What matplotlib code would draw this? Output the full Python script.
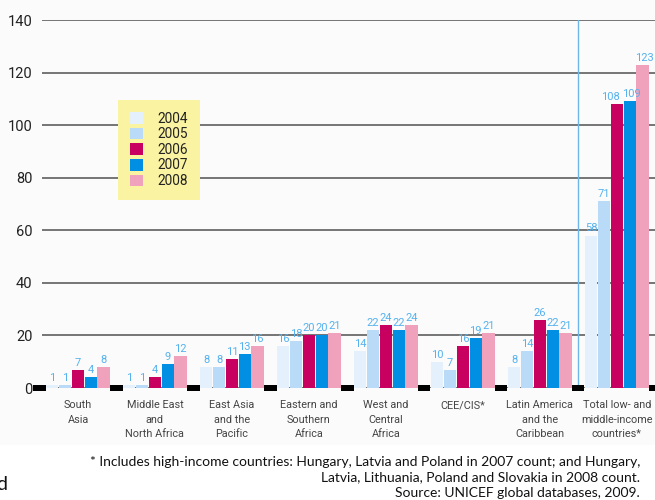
import matplotlib.pyplot as plt
from matplotlib.patches import Patch, Rectangle

regions = ["South\nAsia", "Middle East\nand\nNorth Africa", "East Asia\nand the\nPacific",
           "Eastern and\nSouthern\nAfrica", "West and\nCentral\nAfrica", "CEE/CIS*",
           "Latin America\nand the\nCaribbean", "Total low- and\nmiddle-income\ncountries*"]
years = ["2004", "2005", "2006", "2007", "2008"]
v2004 = [1, 1, 8, 16, 14, 10, 8, 58]
v2005 = [1, 1, 8, 18, 22, 7, 14, 71]
v2006 = [7, 4, 11, 20, 24, 16, 26, 108]
v2007 = [4, 9, 13, 20, 22, 19, 22, 109]
v2008 = [8, 12, 16, 21, 24, 21, 21, 123]
yticks = [0, 20, 40, 60, 80, 100, 120, 140]

series = [v2004, v2005, v2006, v2007, v2008]
colors = ["#E4F0FB", "#B9DBF7", "#C8005F", "#008FE2", "#F0A2BD"]
lblcol = "#55B2EE"
narrow = ["Roboto", "DejaVu Sans"]

fig = plt.figure(figsize=(6.55, 5), dpi=100)
# off-white panel behind the chart image
fig.patches.append(Rectangle((0, 55 / 500), 1, 445 / 500, transform=fig.transFigure,
                             facecolor="#FBFBFB", edgecolor="none", zorder=-5))
ax = fig.add_axes([42 / 655, 112 / 500, 613 / 655, 368 / 500])
ax.set_facecolor("none")

n = len(regions)
for j, (vals, c) in enumerate(zip(series, colors)):
    xs = [6 * g + j for g in range(n)]
    ax.bar(xs, vals, width=0.96, color=c, zorder=3, label=years[j])
    for g, (x, v) in enumerate(zip(xs, vals)):
        # wide three-digit labels side by side: spread them apart a little
        dx = 0
        if v >= 100 and j + 1 < len(series) and series[j + 1][g] >= 100 and series[j + 1][g] < 120:
            dx = -4.5
        elif v >= 100 and j > 0 and series[j - 1][g] >= 100:
            dx = 1.2
        ax.annotate(str(v), (x, v), xytext=(dx, 1.5), textcoords="offset points",
                    ha="center", va="bottom", color=lblcol, fontsize=8.0,
                    family=narrow, zorder=4)

# black baseline blocks between the groups
for g in range(n + 1):
    ax.bar(6 * g - 1, 2.2, bottom=-1.2, width=0.95, color="black", zorder=5, clip_on=False)

ax.axvline(6 * (n - 1) - 1, color="#6DB6EA", lw=1, zorder=2)

for y in yticks:
    ax.axhline(y, color="#6A6A6A", lw=1.3, zorder=1)

ax.set_xlim(-0.8, 46.97)
ax.set_ylim(0, 140)
ax.set_yticks(yticks)
ax.set_yticklabels([str(y) for y in yticks], family=narrow, fontsize=10.5, color="#222222")
ax.tick_params(axis="y", length=0, pad=7)
ax.set_xticks([6 * g + 2 for g in range(n)])
ax.set_xticklabels(regions, family=narrow, fontsize=7.8, color="#444444", linespacing=1.55)
ax.tick_params(axis="x", length=0, pad=9)
for s in ax.spines.values():
    s.set_visible(False)

handles = [Patch(facecolor=c, edgecolor="none") for c in colors]
leg = ax.legend(handles, years, loc="upper left", bbox_to_anchor=(76 / 613, 288 / 368),
                frameon=True, fancybox=False, facecolor="#FAF3A2", edgecolor="none",
                framealpha=1, handlelength=0.95, handleheight=0.95, handletextpad=1.1,
                labelspacing=0.12, borderpad=0.85, borderaxespad=0,
                prop={"family": narrow, "size": 9.8})
for t in leg.get_texts():
    t.set_color("#222222")
leg.set_zorder(6)

foot = ["* Includes high-income countries: Hungary, Latvia and Poland in 2007 count; and Hungary,",
        "Latvia, Lithuania, Poland and Slovakia in 2008 count.",
        "Source: UNICEF global databases, 2009."]
for i, line in enumerate(foot):
    fig.text(640 / 655, 1 - (462 + 15.5 * i) / 500, line, ha="right", va="center",
             fontsize=10, family=["Lato", "DejaVu Sans"], color="#111111")
fig.text(7 / 655, 1 - 484 / 500, "d", ha="right", va="center", fontsize=14,
         family=["Lato", "DejaVu Sans"], color="#111111")

fig.savefig("out.png", dpi=100)
